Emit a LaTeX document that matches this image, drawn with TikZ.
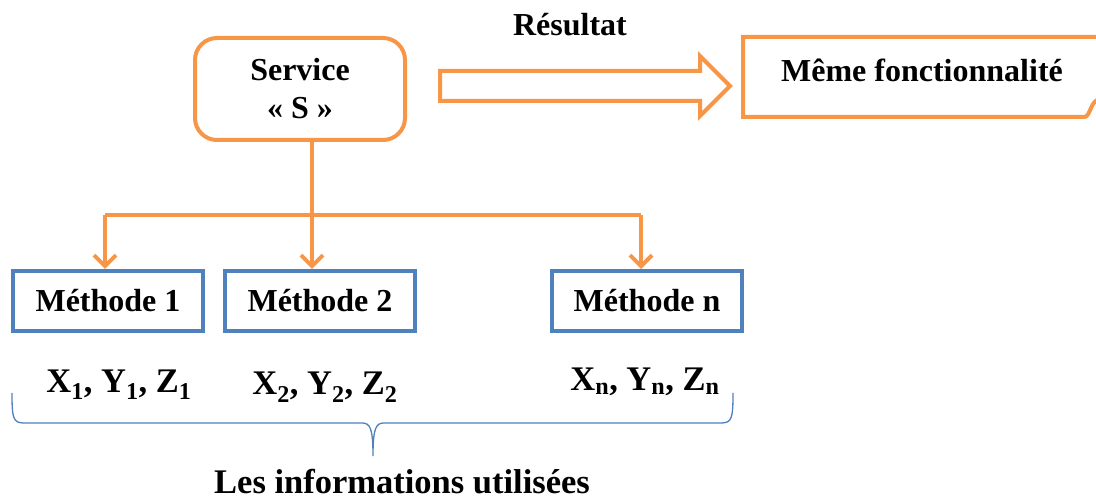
\documentclass[tikz,border=0pt]{standalone}
\usepackage{fontspec}
\setmainfont{Liberation Serif}
\usetikzlibrary{arrows.meta}
\definecolor{orng}{HTML}{F79646}
\definecolor{blu}{HTML}{4F81BD}
\begin{document}
\begin{tikzpicture}[x=1pt,y=-1pt,
  lbl/.style={font=\fontsize{32}{36}\selectfont\bfseries, align=center},
  big/.style={font=\fontsize{34.5}{38}\selectfont\bfseries},
  meth/.style={draw=blu, line width=4pt, minimum width=190pt, minimum height=60pt, lbl},
  conn/.style={draw=orng, line width=4pt},
  arr/.style={conn, -{Straight Barb[length=11pt,width=22pt]}}]
\useasboundingbox (0,0) rectangle (1096,502);

% service box
\node[draw=orng, line width=4pt, rounded corners=22pt, minimum width=210pt, minimum height=102pt, lbl] (serv) at (300,89) {Service\\[2pt]« S »};

% result arrow and target box
\draw[orng, line width=4pt, line join=miter] (440,71) -- (700,71) -- (700,56) -- (730,86) -- (700,116) -- (700,101) -- (440,101) -- cycle;
\node[lbl] (res) at (570,25) {Résultat};
\draw[orng, line width=4pt] (1100,37) -- (743,37) -- (743,117) -- (1084,117) .. controls (1090,117) and (1090,104) .. (1097,100);
\node[lbl] (same) at (922,70) {Même fonctionnalité};

% methods
\node[meth] (m1) at (108,301) {Méthode 1};
\node[meth] (m2) at (320,301) {Méthode 2};
\node[meth] (mn) at (647,301) {Méthode n};

% distribution lines
\coordinate (j) at (312,215);
\draw[conn] ([xshift=12pt]serv.south) -- (j);
\draw[conn] ([xshift=-3pt]m1.north |- j) -- ([xshift=-6pt]mn.north |- j);
\draw[arr] ([xshift=-3pt]m1.north |- j) -- ([xshift=-3pt]m1.north);
\draw[arr] (j) -- (m2.north -| j);
\draw[arr] ([xshift=-6pt]mn.north |- j) -- ([xshift=-6pt]mn.north);

% parameters
\node[big] (p1) at (119,385) {X\textsubscript{1}, Y\textsubscript{1}, Z\textsubscript{1}};
\node[big] (p2) at (325,387) {X\textsubscript{2}, Y\textsubscript{2}, Z\textsubscript{2}};
\node[big] (pn) at (645,382) {X\textsubscript{n}, Y\textsubscript{n}, Z\textsubscript{n}};

% brace
\coordinate (bl) at (12,393);
\coordinate (br) at (733,393);
\coordinate (bt) at (373,456);
\draw[blu, line width=1.3pt] (bl) .. controls (12,418) and (13,423) .. (24,423) -- (362,423)
  .. controls (370,423) and (373,428) .. (bt)
  .. controls (373,428) and (376,423) .. (384,423) -- (721,423)
  .. controls (732,423) and (733,418) .. (br);
\node[big, anchor=base, inner sep=1pt] (info) at (402,494) {Les informations utilisées};
\end{tikzpicture}
\end{document}
